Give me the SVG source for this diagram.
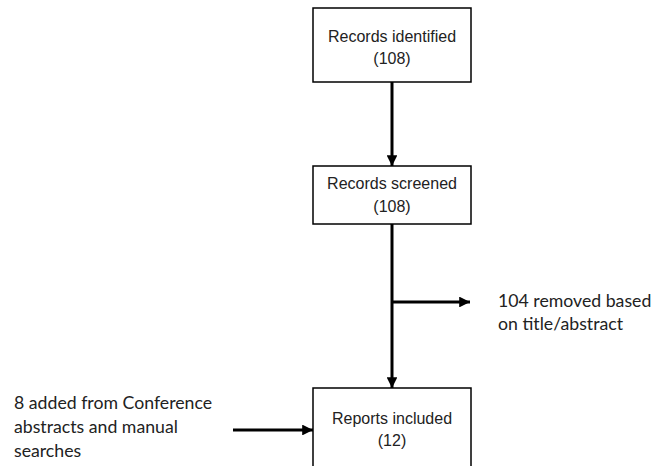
<svg xmlns="http://www.w3.org/2000/svg" width="654" height="466" viewBox="0 0 654 466">
<style>
.box{fill:#fff;stroke:#000;stroke-width:1.5}
.bt{font-family:"Liberation Sans",Arial,sans-serif;font-size:16px;fill:#222;text-anchor:middle}
.lt{font-family:Lato,"Open Sans",sans-serif;font-size:17.7px;fill:#222}
.ln{stroke:#000;stroke-width:3;fill:none}
</style>
<defs>
<marker id="ah" viewBox="0 0 10 10" refX="10" refY="5" markerWidth="3.6" markerHeight="3.6" markerUnits="strokeWidth" orient="auto">
<path d="M0,0 L10,5 L0,10 Z" fill="#000"/>
</marker>
</defs>
<rect width="654" height="466" fill="#fff"/>
<g id="connectors">
<line class="ln" x1="392" y1="82" x2="392" y2="166" marker-end="url(#ah)"/>
<line class="ln" x1="392" y1="224" x2="392" y2="388" marker-end="url(#ah)"/>
<line class="ln" x1="392" y1="302" x2="470" y2="302" marker-end="url(#ah)"/>
<line class="ln" x1="233" y1="430" x2="313" y2="430" marker-end="url(#ah)"/>
</g>
<g id="identified">
<rect class="box" x="313" y="8" width="158" height="74"/>
<text class="bt" x="392" y="42">Records identified</text>
<text class="bt" x="392" y="64">(108)</text>
</g>
<g id="screened">
<rect class="box" x="313" y="166" width="158" height="58"/>
<text class="bt" x="392" y="189">Records screened</text>
<text class="bt" x="392" y="212">(108)</text>
</g>
<g id="included">
<rect class="box" x="313" y="388" width="158" height="90"/>
<text class="bt" x="392" y="424">Reports included</text>
<text class="bt" x="392" y="446">(12)</text>
</g>
<g id="removed">
<text class="lt" x="498" y="307">104 removed based</text>
<text class="lt" x="498" y="330">on title/abstract</text>
</g>
<g id="added">
<text class="lt" x="14" y="409">8 added from Conference</text>
<text class="lt" x="14" y="433">abstracts and manual</text>
<text class="lt" x="14" y="457">searches</text>
</g>
</svg>
